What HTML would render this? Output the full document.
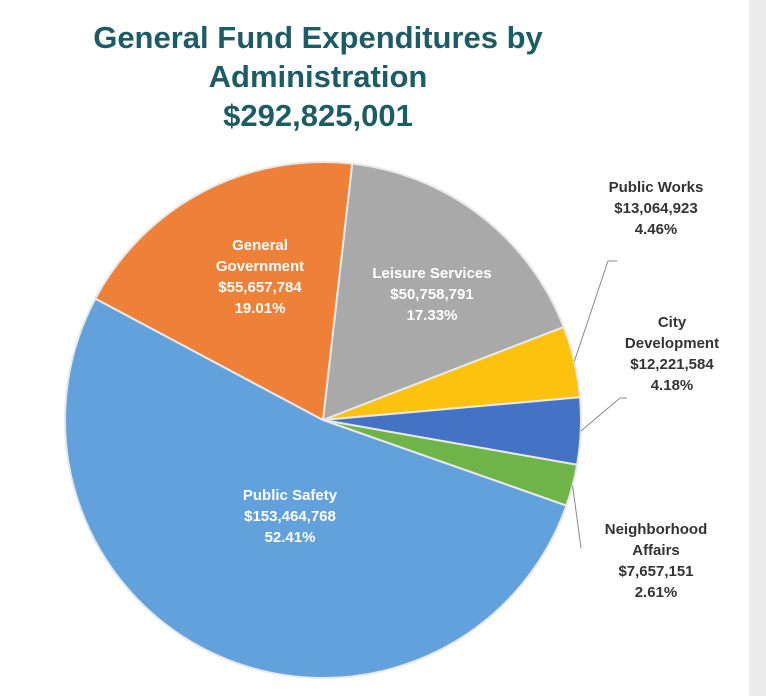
<!DOCTYPE html>
<html><head><meta charset="utf-8"><style>
body{margin:0;width:766px;height:696px;background:#fff;overflow:hidden;font-family:"Liberation Sans",sans-serif;position:relative}
#side{position:absolute;left:749px;top:0;width:17px;height:696px;background:#ececec}
#title{position:absolute;left:0;top:18px;width:636px;text-align:center;color:#1d5c64;font-weight:bold;font-size:31px;line-height:39px}
</style></head><body>
<div id="side"></div>
<div id="title">General Fund Expenditures by<br>Administration<br>$292,825,001</div>
<svg id="chart" width="766" height="696" style="position:absolute;left:0;top:0"></svg>
<script>
const categories=["Leisure Services","Public Works","City Development","Neighborhood Affairs","Public Safety","General Government"];
const amounts=["$50,758,791","$13,064,923","$12,221,584","$7,657,151","$153,464,768","$55,657,784"];
const percents=[17.33,4.46,4.18,2.61,52.41,19.01];
const colors=["#a9a9a9","#fdc20e","#4472c4","#6fb448","#62a1dc","#ef8038"];
const svg=document.getElementById('chart');
const NS="http://www.w3.org/2000/svg";
const cx=323,cy=420,r=258,start=6.5;
const total=percents.reduce((a,b)=>a+b,0);
function pt(deg,rad){const a=(deg-90)*Math.PI/180;return [cx+rad*Math.cos(a),cy+rad*Math.sin(a)];}
let ang=start;const mids=[];
percents.forEach((p,i)=>{
  const sweep=p/total*360;const a0=ang,a1=ang+sweep;ang=a1;mids.push((a0+a1)/2);
  const [x0,y0]=pt(a0,r),[x1,y1]=pt(a1,r);
  const path=document.createElementNS(NS,'path');
  path.setAttribute('d',`M${cx},${cy} L${x0},${y0} A${r},${r} 0 ${sweep>180?1:0} 1 ${x1},${y1} Z`);
  path.setAttribute('fill',colors[i]);path.setAttribute('stroke','#e8e8e8');path.setAttribute('stroke-width','2');
  
  
  svg.appendChild(path);
});
function label(lines,x,y,fill,i){
  const t=document.createElementNS(NS,'text');
  t.setAttribute('x',x);t.setAttribute('y',y);t.setAttribute('text-anchor','middle');
  t.setAttribute('font-size','15');t.setAttribute('font-weight','bold');t.setAttribute('fill',fill);
  t.setAttribute('font-family','Liberation Sans, sans-serif');
  
  
  lines.forEach((l,k)=>{const s=document.createElementNS(NS,'tspan');s.setAttribute('x',x);s.setAttribute('dy',k?21:0);s.textContent=l;t.appendChild(s);});
  svg.appendChild(t);
}
function line(pts,i){
  const p=document.createElementNS(NS,'polyline');
  p.setAttribute('points',pts.map(q=>q.join(',')).join(' '));
  p.setAttribute('fill','none');p.setAttribute('stroke','#888');p.setAttribute('stroke-width','1');
  
  
  svg.appendChild(p);
}
const pct=i=>percents[i].toFixed(2)+'%';
const name=i=>categories[i].split(' ');
label(["Leisure Services",amounts[0],pct(0)],432,278,"#fff",0);
label(["General","Government",amounts[5],pct(5)],260,250,"#fff",5);
label(["Public Safety",amounts[4],pct(4)],290,500,"#fff",4);
label(["Public Works",amounts[1],pct(1)],656,192,"#333",1);
label(["City","Development",amounts[2],pct(2)],672,327,"#333",2);
label(["Neighborhood","Affairs",amounts[3],pct(3)],656,534,"#333",3);
const p1=pt(mids[1],r),p2=pt(mids[2],r),p3=pt(mids[3],r);
line([p1,[608,261],[617,261]],1);
line([p2,[620,398],[627,398]],2);
line([p3,[581,548]],3);
</script>
</body></html>
